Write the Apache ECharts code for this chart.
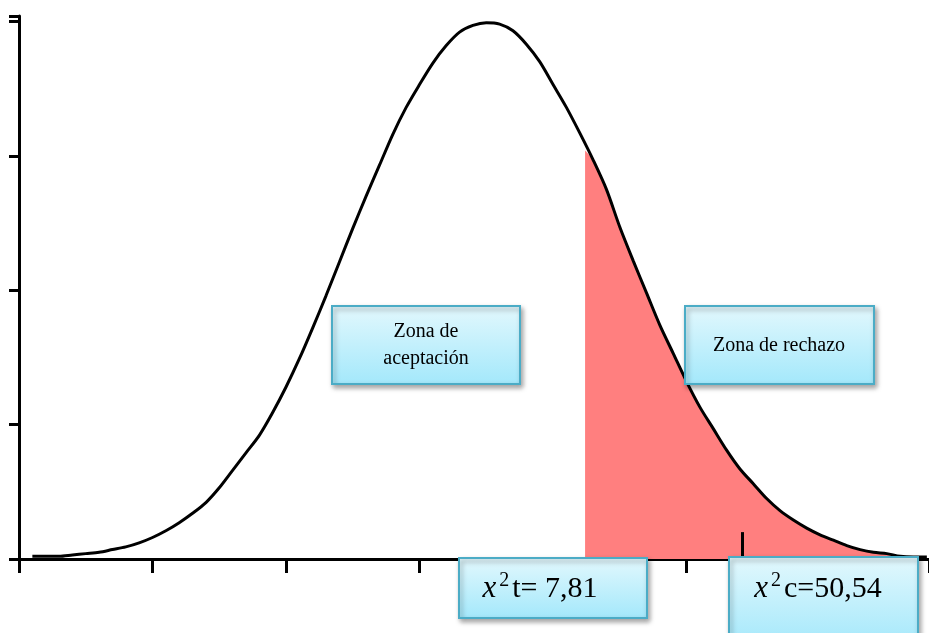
<!DOCTYPE html>
<html>
<head>
<meta charset="utf-8">
<script src="https://cdn.jsdelivr.net/npm/echarts@6/dist/echarts.min.js"></script>
<style>
  html, body { margin: 0; padding: 0; background: #fff; }
  #chi-cuadrado { width: 929px; height: 633px; }
</style>
</head>
<body>
<div id="chi-cuadrado"></div>
<script>
// valores (unidades del eje)
var xs = [0.1, 0.2, 0.3, 0.4, 0.5, 0.6, 0.7, 0.8, 0.9, 1.0,
  1.1, 1.2, 1.3, 1.4, 1.5, 1.6, 1.7, 1.8, 1.9, 2.0,
  2.1, 2.2, 2.3, 2.4, 2.5, 2.6, 2.7, 2.8, 2.9, 3.0,
  3.1, 3.2, 3.3, 3.4, 3.5, 3.6, 3.7, 3.8, 3.9, 4.0,
  4.1, 4.2, 4.3, 4.4, 4.5, 4.6, 4.7, 4.8, 4.9, 5.0,
  5.1, 5.2, 5.3, 5.4, 5.5, 5.6, 5.7, 5.8, 5.9, 6.0,
  6.1, 6.2, 6.3, 6.4, 6.5, 6.6, 6.7, 6.8];
var ys = [0.02, 0.02, 0.02, 0.03, 0.04, 0.05, 0.07, 0.09, 0.12, 0.16,
  0.21, 0.27, 0.34, 0.42, 0.53, 0.66, 0.79, 0.92, 1.09, 1.28,
  1.49, 1.72, 1.96, 2.21, 2.46, 2.70, 2.93, 3.16, 3.36, 3.53,
  3.69, 3.82, 3.92, 3.97, 3.99, 3.98, 3.93, 3.83, 3.70, 3.53,
  3.36, 3.17, 2.97, 2.75, 2.47, 2.22, 1.98, 1.74, 1.53, 1.32,
  1.13, 0.97, 0.81, 0.67, 0.56, 0.45, 0.36, 0.29, 0.23, 0.18,
  0.14, 0.10, 0.07, 0.05, 0.04, 0.02, 0.015, 0.015];

// valor critico (inicio zona de rechazo) y valor calculado
var xCritico = 4.24, yCritico = 3.04;
var xCalculado = 5.42, altoMarca = 0.2;
var finRechazo = 6.6;

var curva = xs.map(function (x, i) { return [x, ys[i]]; });
var rechazo = [[xCritico, 0], [xCritico, yCritico]].concat(
  curva.filter(function (p) { return p[0] > xCritico && p[0] <= finRechazo; })
);

var serif = '"Liberation Serif", "DejaVu Serif", serif';
var cajaFill = new echarts.graphic.LinearGradient(0, 0, 0, 1, [
  { offset: 0, color: '#E3F8FD' },
  { offset: 1, color: '#A3E8FB' }
]);

function caja(x, y, w, h) {
  return {
    type: 'rect',
    shape: { x: x, y: y, width: w, height: h },
    style: {
      fill: cajaFill,
      stroke: '#4BACC6',
      lineWidth: 2,
      shadowBlur: 5,
      shadowOffsetX: 2,
      shadowOffsetY: 3,
      shadowColor: 'rgba(0,0,0,0.35)'
    },
    z: 100
  };
}

function texto(x, y, t, size, rich) {
  return {
    type: 'text',
    x: x, y: y,
    style: {
      text: t,
      fill: '#000',
      font: size + 'px ' + serif,
      align: 'center',
      verticalAlign: 'middle',
      lineHeight: 27,
      rich: rich
    },
    z: 101
  };
}

var richChi = {
  i: { fontFamily: serif, fontStyle: 'italic', fontSize: 31, lineHeight: 40, fill: '#000' },
  s: { fontFamily: serif, fontSize: 20, lineHeight: 20, fill: '#000', verticalAlign: 'top', padding: [2, 3, 0, 3] },
  n: { fontFamily: serif, fontSize: 30, lineHeight: 40, fill: '#000' }
};

var myChart = echarts.init(document.getElementById('chi-cuadrado'));
var option = {
  animation: false,
  grid: { left: 19, right: 0, top: 16, bottom: 74 },
  xAxis: {
    type: 'value',
    min: 0,
    max: 6.816,
    interval: 1,
    axisLine: { lineStyle: { color: '#000', width: 3 } },
    axisTick: { show: true, length: 14, lineStyle: { color: '#000', width: 3 } },
    axisLabel: { show: false },
    splitLine: { show: false }
  },
  yAxis: {
    type: 'value',
    min: 0,
    max: 4.04,
    interval: 1,
    axisLine: { show: true, lineStyle: { color: '#000', width: 3 } },
    axisTick: { show: true, length: 10, lineStyle: { color: '#000', width: 3 } },
    axisLabel: { show: false },
    splitLine: { show: false }
  },
  series: [
    {
      name: 'rechazo',
      type: 'line',
      data: rechazo,
      symbol: 'none',
      smooth: 0.3,
      lineStyle: { width: 0 },
      areaStyle: { color: '#FF7F7F', opacity: 1 },
      z: 1
    },
    {
      name: 'curva',
      type: 'line',
      data: curva,
      symbol: 'none',
      smooth: 0.3,
      lineStyle: { color: '#000', width: 3 },
      z: 3,
      markLine: {
        symbol: 'none',
        silent: true,
        label: { show: false },
        lineStyle: { color: '#000', width: 3, type: 'solid' },
        data: [[{ coord: [xCalculado, 0] }, { coord: [xCalculado, altoMarca] }]]
      }
    }
  ],
  graphic: [
    caja(332, 306, 188, 78),
    texto(426, 345, 'Zona de\naceptación', 20),
    caja(685, 306, 189, 78),
    texto(779, 346, 'Zona de rechazo', 20),
    caja(459, 558, 188, 60),
    texto(540, 589, '{i|x}{s|2}{n|t= 7,81}', 30, richChi),
    caja(729, 557, 189, 90),
    texto(818, 589, '{i|x}{s|2}{n|c=50,54}', 30, richChi)
  ]
};
myChart.setOption(option);
window.onresize = function () {
  myChart.resize();
};
</script>
</body>
</html>
